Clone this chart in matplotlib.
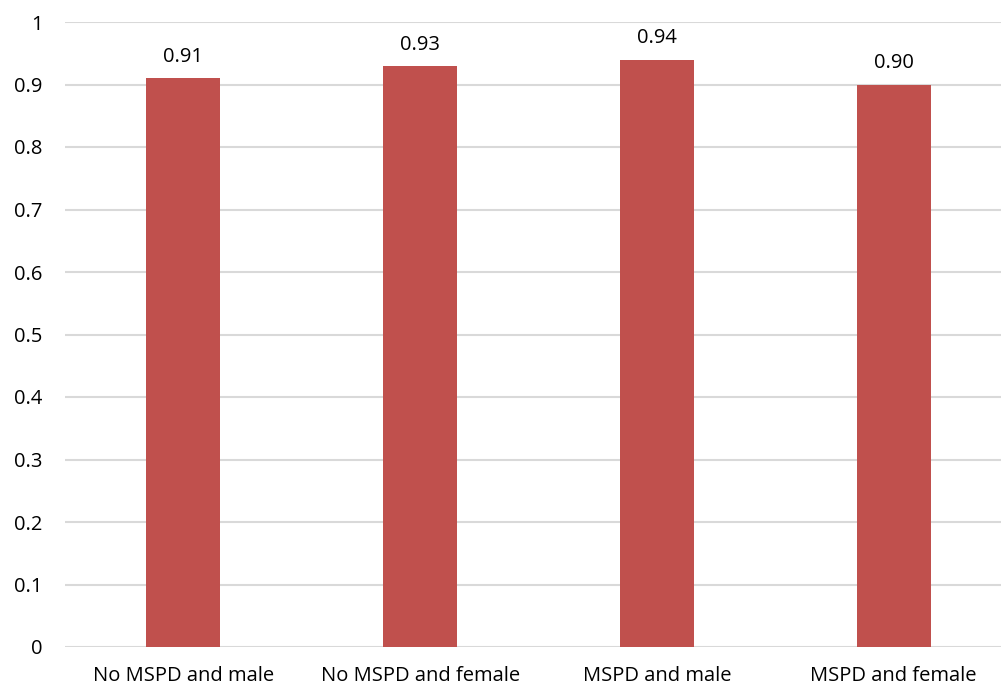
import matplotlib
matplotlib.use("Agg")
import matplotlib.pyplot as plt

categories = ["No MSPD and male", "No MSPD and female", "MSPD and male", "MSPD and female"]
values = [0.91, 0.93, 0.94, 0.90]
yticks = [0, 0.1, 0.2, 0.3, 0.4, 0.5, 0.6, 0.7, 0.8, 0.9, 1]
ytick_labels = ["0", "0.1", "0.2", "0.3", "0.4", "0.5", "0.6", "0.7", "0.8", "0.9", "1"]

plt.rcParams["font.family"] = ["Open Sans", "DejaVu Sans"]

fig = plt.figure(figsize=(10.01, 6.9), dpi=100)
ax = fig.add_axes([65 / 1001, 43 / 690, 947 / 1001, 625 / 690])

x = list(range(len(categories)))
ax.bar(x, values, width=0.313, color="#C0504D", zorder=2)
for xi, v in zip(x, values):
    ax.text(xi, v + 0.018, f"{v:.2f}", ha="center", va="bottom", fontsize=14.5, color="#000000")

ax.set_xlim(-0.5, len(categories) - 0.5)
ax.set_ylim(0, 1)
ax.set_yticks(yticks)
ax.set_yticklabels(ytick_labels)
ax.set_xticks(x)
ax.set_xticklabels(categories)
ax.yaxis.grid(True, color="#D9D9D9", linewidth=1.5, zorder=0)
ax.set_axisbelow(True)
for s in ax.spines.values():
    s.set_visible(False)
ax.tick_params(axis="both", length=0, labelsize=14.5, colors="#000000")
ax.tick_params(axis="y", pad=16)
ax.tick_params(axis="x", pad=14)

fig.savefig("out.png", dpi=100)
